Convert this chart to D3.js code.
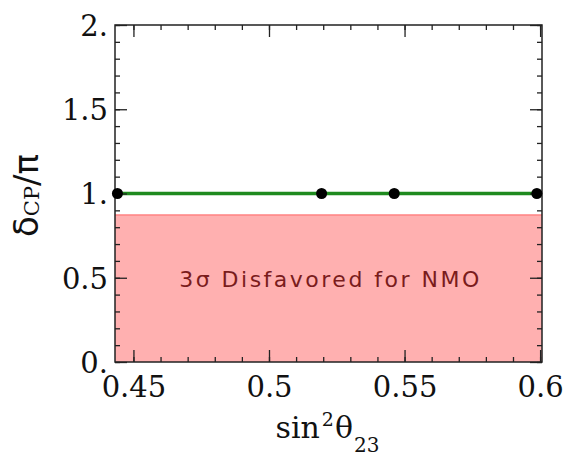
<!DOCTYPE html>
<html><head><meta charset="utf-8">
<script src="https://cdn.jsdelivr.net/npm/d3@7"></script>
<style>body{margin:0;background:#fff}svg{display:block}</style>
</head><body>
<script>
// ---- data ----
const pointsX = [0.4441, 0.5194, 0.5462, 0.5988];
const pointsY = [1.0, 1.0, 1.0, 1.0];
const bandLow = 0.0, bandHigh = 0.872;
const xTickValues = [0.45, 0.5, 0.55, 0.6];
const xTickLabels = ["0.45", "0.5", "0.55", "0.6"];
const yTickValues = [0, 0.5, 1, 1.5, 2];
const yTickLabels = ["0.", "0.5", "1.", "1.5", "2."];
const xMinor = [0.45,0.46,0.47,0.48,0.49,0.5,0.51,0.52,0.53,0.54,0.55,0.56,0.57,0.58,0.59,0.6];
const yMinor = [0,0.1,0.2,0.3,0.4,0.5,0.6,0.7,0.8,0.9,1,1.1,1.2,1.3,1.4,1.5,1.6,1.7,1.8,1.9,2];
const annotation = "3σ Disfavored for NMO";

const W = 567, H = 457;
const L = 115, R = 542, T = 25, B = 362;
const svg = d3.select("body").append("svg").attr("width", W).attr("height", H);

const x = d3.scaleLinear().domain([0.4432, 0.6007]).range([L, R]);
const y = d3.scaleLinear().domain([0, 2]).range([B, T]);

// band
svg.append("rect")
  .attr("x", x.range()[0]).attr("width", x.range()[1]-x.range()[0])
  .attr("y", y(bandHigh)).attr("height", y(bandLow)-y(bandHigh))
  .attr("fill", "rgb(255,176,176)");
svg.append("line")
  .attr("x1", L).attr("x2", R).attr("y1", y(bandHigh)).attr("y2", y(bandHigh))
  .attr("stroke", "rgb(255,130,130)").attr("stroke-width", 1.5);

svg.append("text")
  .attr("x", (L+R)/2 + 2).attr("y", y(0.5) + 9)
  .attr("text-anchor", "middle")
  .attr("font-family", "DejaVu Sans").attr("font-size", 22)
  .attr("letter-spacing", 2.5)
  .attr("fill", "#7a1c1c")
  .text(annotation);

// green line
const pts = pointsX.map((d,i)=>[d, pointsY[i]]);
svg.append("path")
  .attr("d", d3.line().x(d=>x(d[0])).y(d=>y(d[1]))(pts))
  .attr("fill","none").attr("stroke","#1e8a1e").attr("stroke-width",3.6);

// frame
svg.append("rect").attr("x", L).attr("y", T).attr("width", R-L).attr("height", B-T)
  .attr("fill","none").attr("stroke","#222").attr("stroke-width",1.5);

function styleAxis(g){ g.select(".domain").remove(); g.selectAll(".tick line").attr("stroke","#222").attr("stroke-width",1.3); }

// major ticks with labels
const serif = "DejaVu Serif";
svg.append("g").attr("transform",`translate(0,${B})`)
  .call(d3.axisBottom(x).tickValues(xTickValues).tickSize(-12).tickPadding(0)
    .tickFormat((d,i)=>xTickLabels[i]))
  .call(styleAxis)
  .call(g=>g.selectAll(".tick text").attr("font-family",serif).attr("font-size",29)
     .attr("fill","#111").attr("dy",null).attr("y",35));
svg.append("g").attr("transform",`translate(${L},0)`)
  .call(d3.axisLeft(y).tickValues(yTickValues).tickSize(-12).tickPadding(0)
    .tickFormat((d,i)=>yTickLabels[i]))
  .call(styleAxis)
  .call(g=>g.selectAll(".tick text").attr("font-family",serif).attr("font-size",29)
     .attr("fill","#111").attr("x",-7).attr("dy","0.36em"));
svg.append("g").attr("transform",`translate(0,${T})`)
  .call(d3.axisTop(x).tickValues(xTickValues).tickSize(-12).tickFormat(""))
  .call(styleAxis);
svg.append("g").attr("transform",`translate(${R},0)`)
  .call(d3.axisRight(y).tickValues(yTickValues).tickSize(-12).tickFormat(""))
  .call(styleAxis);

// minor ticks
svg.append("g").attr("transform",`translate(0,${B})`)
  .call(d3.axisBottom(x).tickValues(xMinor).tickSize(-5).tickFormat("")).call(styleAxis);
svg.append("g").attr("transform",`translate(0,${T})`)
  .call(d3.axisTop(x).tickValues(xMinor).tickSize(-5).tickFormat("")).call(styleAxis);
svg.append("g").attr("transform",`translate(${L},0)`)
  .call(d3.axisLeft(y).tickValues(yMinor).tickSize(-5).tickFormat("")).call(styleAxis);
svg.append("g").attr("transform",`translate(${R},0)`)
  .call(d3.axisRight(y).tickValues(yMinor).tickSize(-5).tickFormat("")).call(styleAxis);

// dots
svg.append("g").selectAll("circle").data(pts).join("circle")
  .attr("cx", d=>x(d[0])).attr("cy", d=>y(d[1])).attr("r", 5.5).attr("fill","#000");

// x label
const xl = svg.append("text").attr("x", (L+R)/2 - 1).attr("y", 438)
  .attr("text-anchor","middle").attr("font-family", serif).attr("font-size",30).attr("fill","#111");
xl.append("tspan").text("sin");
xl.append("tspan").attr("font-size",19).attr("dy",-12).attr("dx",2).text("2");
xl.append("tspan").attr("dy",12).attr("dx",1).text("θ");
xl.append("tspan").attr("font-size",20).attr("dy",14).attr("dx",1).text("23");

// y label
const yl = svg.append("text").attr("transform",`translate(38,${(T+B)/2 + 2}) rotate(-90)`)
  .attr("text-anchor","middle").attr("font-family","DejaVu Sans").attr("font-size",34).attr("fill","#111");
yl.append("tspan").text("δ");
yl.append("tspan").attr("font-family", serif).attr("font-size",21).attr("dy",1).text("CP");
yl.append("tspan").attr("dy",-1).text("/π");
</script>
</body></html>
